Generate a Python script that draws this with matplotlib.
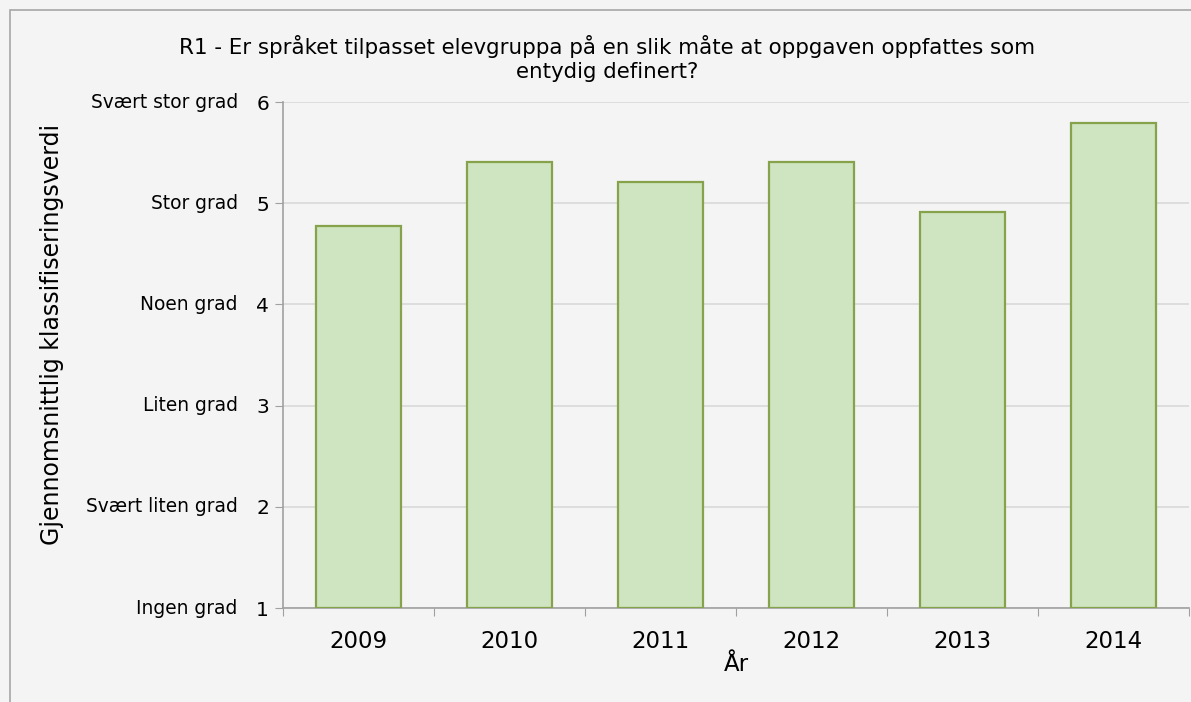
import matplotlib.pyplot as plt
from matplotlib.patches import Rectangle

years = ["2009", "2010", "2011", "2012", "2013", "2014"]
values = [4.77, 5.41, 5.21, 5.41, 4.91, 5.79]
levels = [1, 2, 3, 4, 5, 6]
level_names = ["Ingen grad", "Svært liten grad", "Liten grad", "Noen grad",
               "Stor grad", "Svært stor grad"]

W, H = 1191, 702
fig = plt.figure(figsize=(W / 100, H / 100), dpi=100)
fig.patch.set_facecolor("#f4f4f4")
fig.patches.append(Rectangle((9.5 / W, -0.05), 1.2, 1 - 9.5 / H + 0.05,
                             transform=fig.transFigure, fill=False,
                             edgecolor="#a6a6a6", linewidth=1.2))

ax = fig.add_axes([283 / W, 1 - 608 / H, (1189 - 283) / W, (608 - 102) / H])
ax.set_facecolor("#f4f4f4")

x = list(range(len(years)))
ax.bar(x, [v - 1 for v in values], bottom=1, width=0.56,
       color="#cfe5c2", edgecolor="#86a24a", linewidth=1.6, zorder=3)

ax.set_xlim(-0.5, len(years) - 0.5)
ax.set_ylim(1, 6)
ax.set_yticks(levels)
ax.set_yticklabels([str(l) for l in levels], fontsize=14.5)
ax.yaxis.grid(True, color="#d9d9d9", linewidth=1.2, zorder=0)
ax.tick_params(axis="y", length=6, color="#a0a0a0", pad=4)

ax.set_xticks([i - 0.5 for i in range(len(years) + 1)])
ax.set_xticklabels([])
ax.set_xticks(x, minor=True)
ax.set_xticklabels(years, minor=True, fontsize=16.5)
ax.tick_params(axis="x", which="major", length=6, color="#a0a0a0")
ax.tick_params(axis="x", which="minor", length=0, pad=16)

for s in ["top", "right"]:
    ax.spines[s].set_visible(False)
for s in ["left", "bottom"]:
    ax.spines[s].set_color("#a0a0a0")
    ax.spines[s].set_linewidth(1.2)

for l, name in zip(levels, level_names):
    ax.annotate(name, xy=(0, l), xycoords=("axes fraction", "data"),
                xytext=(-32.5, 0), textcoords="offset points",
                ha="right", va="center", fontsize=13.4)

ax.set_xlabel("År", fontsize=16.5, labelpad=0)
fig.text(52 / W, 1 - 334 / H, "Gjennomsnittlig klassifiseringsverdi",
         rotation=90, ha="center", va="center", fontsize=17)
fig.text(607 / W, 1 - 59 / H,
         "R1 - Er språket tilpasset elevgruppa på en slik måte at oppgaven oppfattes som\nentydig definert?",
         ha="center", va="center", fontsize=15.4, linespacing=1.25)

fig.savefig("out.png", dpi=100, facecolor=fig.get_facecolor())
